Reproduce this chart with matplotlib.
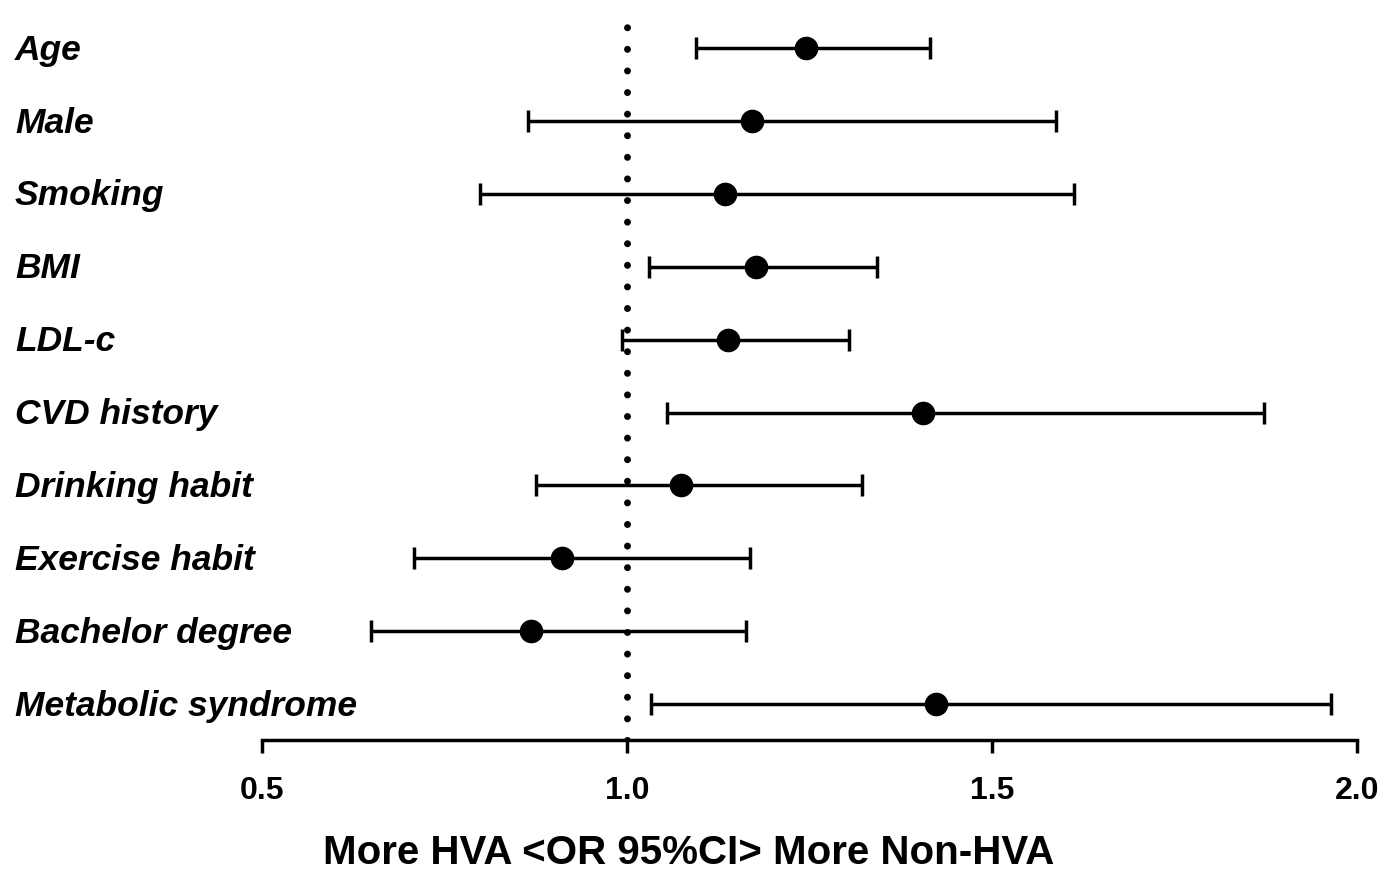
import matplotlib.pyplot as plt
from matplotlib import transforms

labels = ['Age', 'Male', 'Smoking', 'BMI', 'LDL-c', 'CVD history', 'Drinking habit',
          'Exercise habit', 'Bachelor degree', 'Metabolic syndrome']
odds = [1.245, 1.171, 1.134, 1.177, 1.138, 1.405, 1.074, 0.911, 0.868, 1.423]
lower = [1.095, 0.864, 0.799, 1.030, 0.993, 1.055, 0.875, 0.708, 0.649, 1.033]
upper = [1.415, 1.588, 1.612, 1.342, 1.304, 1.873, 1.322, 1.168, 1.163, 1.964]

plt.rcParams['font.family'] = ['Liberation Sans', 'DejaVu Sans']

fig = plt.figure(figsize=(13.85, 8.71), dpi=100)
ax = fig.add_axes([262/1385, 1-740/871, (1357-262)/1385, (740-10)/871])

ys = list(range(len(labels)))
xerr = [[o-l for o, l in zip(odds, lower)], [u-o for o, u in zip(odds, upper)]]
ax.errorbar(odds, ys, xerr=xerr, fmt='o', color='black', ms=16, elinewidth=2.5,
            capsize=8, capthick=2.5)
# reference line at OR = 1
ax.axvline(1.0, color='black', ls=(0, (0.01, 3.1)), lw=5, dash_capstyle='round')

ax.set_xlim(0.5, 2.0)
ax.set_ylim(9.49, -0.52)
ax.set_xticks([0.5, 1.0, 1.5, 2.0])
ax.set_xticklabels(['0.5', '1.0', '1.5', '2.0'], fontsize=23, fontweight='bold')
ax.tick_params(axis='x', length=9, width=2.5, pad=17)
ax.set_yticks([])
for s in ['left', 'top', 'right']:
    ax.spines[s].set_visible(False)
ax.spines['bottom'].set_linewidth(2.5)

trans = transforms.blended_transform_factory(fig.transFigure, ax.transData)
for y, lab in zip(ys, labels):
    ax.text(15/1385, y + 0.03, lab, transform=trans, fontsize=25.5, fontweight='bold',
            fontstyle='italic', ha='left', va='center')

fig.text(689/1385, 1-853/871, 'More HVA <OR 95%CI> More Non-HVA', fontsize=29,
         fontweight='bold', ha='center', va='center')

fig.savefig('out.png', dpi=100)
